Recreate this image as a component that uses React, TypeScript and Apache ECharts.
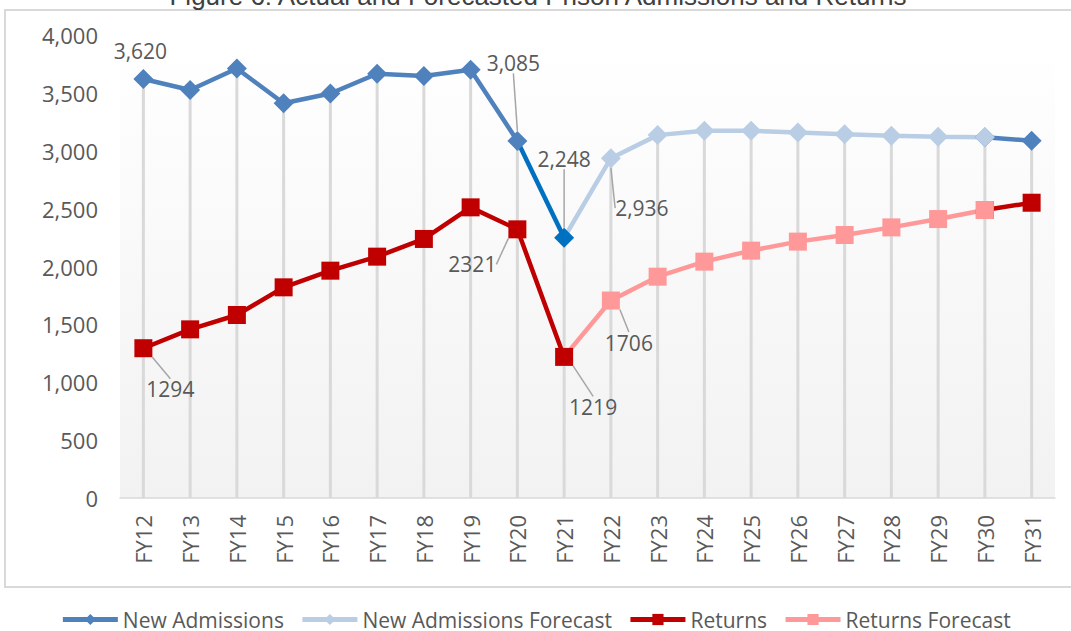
import React, { useEffect, useRef } from "react";
import * as echarts from "echarts";

const categories = [
  "FY12", "FY13", "FY14", "FY15", "FY16", "FY17", "FY18", "FY19", "FY20", "FY21",
  "FY22", "FY23", "FY24", "FY25", "FY26", "FY27", "FY28", "FY29", "FY30", "FY31",
];

// FY12–FY21
const newAdmissionsActual = [3620, 3525, 3710, 3410, 3495, 3665, 3645, 3700, 3085, 2248];
// FY21–FY30
const newAdmissionsForecast = [2248, 2936, 3135, 3172, 3172, 3158, 3142, 3130, 3122, 3116];
// FY31
const newAdmissionsFY31 = 3087;

// FY12–FY21
const returnsActual = [1294, 1457, 1581, 1820, 1964, 2085, 2238, 2511, 2321, 1219];
// FY21–FY30
const returnsForecast = [1219, 1706, 1912, 2042, 2137, 2215, 2272, 2338, 2410, 2488];
// FY31
const returnsFY31 = 2551;

const yTicks = [0, 500, 1000, 1500, 2000, 2500, 3000, 3500, 4000];

const TITLE = "Figure 6: Actual and Forecasted Prison Admissions and Returns";

const FONT = "'Open Sans', 'Noto Sans', sans-serif";
const C_NA = "#4F81BD";
const C_NA_SEG = "#0070C0";
const C_NAF = "#B9CDE5";
const C_R = "#C00000";
const C_RF = "#FF9999";
const TXT = "#595959";

// label offsets (dx, dy from point centre), leader line shown?
const labelOffsets: Record<string, [number, number, boolean]> = {
  "na:FY12": [-3, -28, false],
  "na:FY20": [-4, -78, true],
  "naseg:FY21": [0, -79, true],
  "naf:FY22": [31, 50, true],
  "r:FY12": [27, 41, true],
  "r:FY20": [-45, 35, true],
  "r:FY21": [29, 50, true],
  "rf:FY22": [18, 42, true],
};

function placed(start: number, vals: number[]): (number | null)[] {
  return categories.map((_, i) =>
    i >= start && i < start + vals.length ? vals[i - start] : null
  );
}

export default function App() {
  const ref = useRef<HTMLDivElement>(null);

  useEffect(() => {
    document.body.style.margin = "0";
    if (!ref.current) return;
    const chart = echarts.init(ref.current, undefined, { renderer: "svg" });

    const i21 = categories.indexOf("FY21");
    const i20 = categories.indexOf("FY20");
    const i30 = categories.indexOf("FY30");

    const naMain = placed(0, newAdmissionsActual.slice(0, i20 + 1));
    const naSeg = placed(i20, newAdmissionsActual.slice(i20, i21 + 1));
    const naF = placed(i21, newAdmissionsForecast);
    const naTail = placed(i30, [newAdmissionsForecast[newAdmissionsForecast.length - 1], newAdmissionsFY31]);
    const rMain = placed(0, returnsActual);
    const rF = placed(i21, returnsForecast);
    const rTail = placed(i30, [returnsForecast[returnsForecast.length - 1], returnsFY31]);

    const all = [naMain, naSeg, naF, naTail, rMain, rF, rTail];
    const drop = categories.map((_, i) => {
      let m: number | null = null;
      all.forEach((s) => {
        const v = s[i];
        if (v != null && (m == null || v > m)) m = v;
      });
      return m;
    });

    const withLabels = (key: string, arr: (number | null)[], hideSymbolAt: number[] = []) =>
      arr.map((v, i) => {
        if (v == null) return null;
        const item: any = { value: v };
        if (hideSymbolAt.includes(i)) item.symbol = "none";
        const off = labelOffsets[key + ":" + categories[i]];
        if (off) {
          item.label = { show: true };
          item.labelLine = { show: off[2] };
        }
        return item;
      });

    const layoutFor = (key: string) => (p: any) => {
      const off = labelOffsets[key + ":" + categories[p.dataIndex]];
      return off ? { dx: off[0], dy: off[1] } : {};
    };

    const commaFmt = (p: any) => Number(p.value).toLocaleString("en-US");
    const plainFmt = (p: any) => String(p.value);

    const labelBase = {
      show: false,
      position: "inside",
      color: TXT,
      fontSize: 21,
      fontFamily: FONT,
    };
    const labelLineBase = {
      show: false,
      lineStyle: { color: "#A6A6A6", width: 1.5 },
    };

    const lineSeries = (
      name: string,
      key: string,
      data: (number | null)[],
      color: string,
      symbol: string,
      symbolSize: number,
      fmt: (p: any) => string,
      hide: number[] = []
    ) => ({
      type: "line",
      name,
      data: withLabels(key, data, hide),
      symbol,
      symbolSize,
      connectNulls: false,
      lineStyle: { color, width: 4.5 },
      itemStyle: { color },
      emphasis: { disabled: true },
      label: { ...labelBase, formatter: fmt },
      labelLine: labelLineBase,
      labelLayout: layoutFor(key),
      z: 3,
    });

    const option: any = {
      animation: false,
      textStyle: { fontFamily: FONT },
      grid: {
        left: 120,
        right: 16,
        top: 35,
        bottom: 133,
        show: true,
        borderWidth: 0,
        backgroundColor: new echarts.graphic.LinearGradient(0, 0, 0, 1, [
          { offset: 0, color: "#FFFFFF" },
          { offset: 1, color: "#F2F2F2" },
        ]),
      },
      graphic: [
        {
          type: "rect",
          shape: { x: 5, y: 10, width: 1080, height: 577 },
          style: { fill: "none", stroke: "#D9D9D9", lineWidth: 2 },
          silent: true,
          z: -10,
        },
        {
          type: "text",
          x: 538,
          y: 9,
          style: {
            text: TITLE,
            fontSize: 26,
            fontFamily: "'Liberation Sans', Arial, sans-serif",
            fill: "#404040",
            textAlign: "center",
            textVerticalAlign: "bottom",
          },
          silent: true,
        },
      ],
      legend: {
        data: ["New Admissions", "New Admissions Forecast", "Returns", "Returns Forecast"],
        left: "center",
        top: 604,
        itemWidth: 55,
        itemHeight: 14,
        itemGap: 16,
        lineStyle: { width: 5 },
        textStyle: { color: TXT, fontSize: 21, fontFamily: FONT },
      },
      xAxis: {
        type: "category",
        data: categories,
        boundaryGap: true,
        axisLine: { lineStyle: { color: "#D9D9D9", width: 1.5 } },
        axisTick: { show: false },
        axisLabel: {
          rotate: 90,
          margin: 17,
          color: TXT,
          fontSize: 22,
          fontFamily: FONT,
          interval: 0,
        },
        splitLine: { show: false },
      },
      yAxis: {
        type: "value",
        min: yTicks[0],
        max: yTicks[yTicks.length - 1],
        interval: yTicks[1] - yTicks[0],
        axisLine: { show: false },
        axisTick: { show: false },
        splitLine: { show: false },
        axisLabel: {
          margin: 22,
          color: TXT,
          fontSize: 22,
          fontFamily: FONT,
          formatter: (v: number) => v.toLocaleString("en-US"),
        },
      },
      series: [
        {
          type: "bar",
          name: "drop",
          data: drop,
          barWidth: 3,
          itemStyle: { color: "#D9D9D9" },
          silent: true,
          z: 1,
        },
        lineSeries("na-tail", "natail", naTail, C_NA, "diamond", 20, commaFmt),
        lineSeries("r-tail", "rtail", rTail, C_R, "rect", 18, plainFmt),
        lineSeries("New Admissions Forecast", "naf", naF, C_NAF, "diamond", 20, commaFmt, [i21]),
        lineSeries("Returns Forecast", "rf", rF, C_RF, "rect", 18, plainFmt, [i21]),
        lineSeries("na-seg", "naseg", naSeg, C_NA_SEG, "diamond", 20, commaFmt, [i20]),
        lineSeries("New Admissions", "na", naMain, C_NA, "diamond", 20, commaFmt),
        lineSeries("Returns", "r", rMain, C_R, "rect", 18, plainFmt),
      ],
    };

    chart.setOption(option);
    return () => chart.dispose();
  }, []);

  return <div ref={ref} style={{ width: 1071, height: 631 }} />;
}
